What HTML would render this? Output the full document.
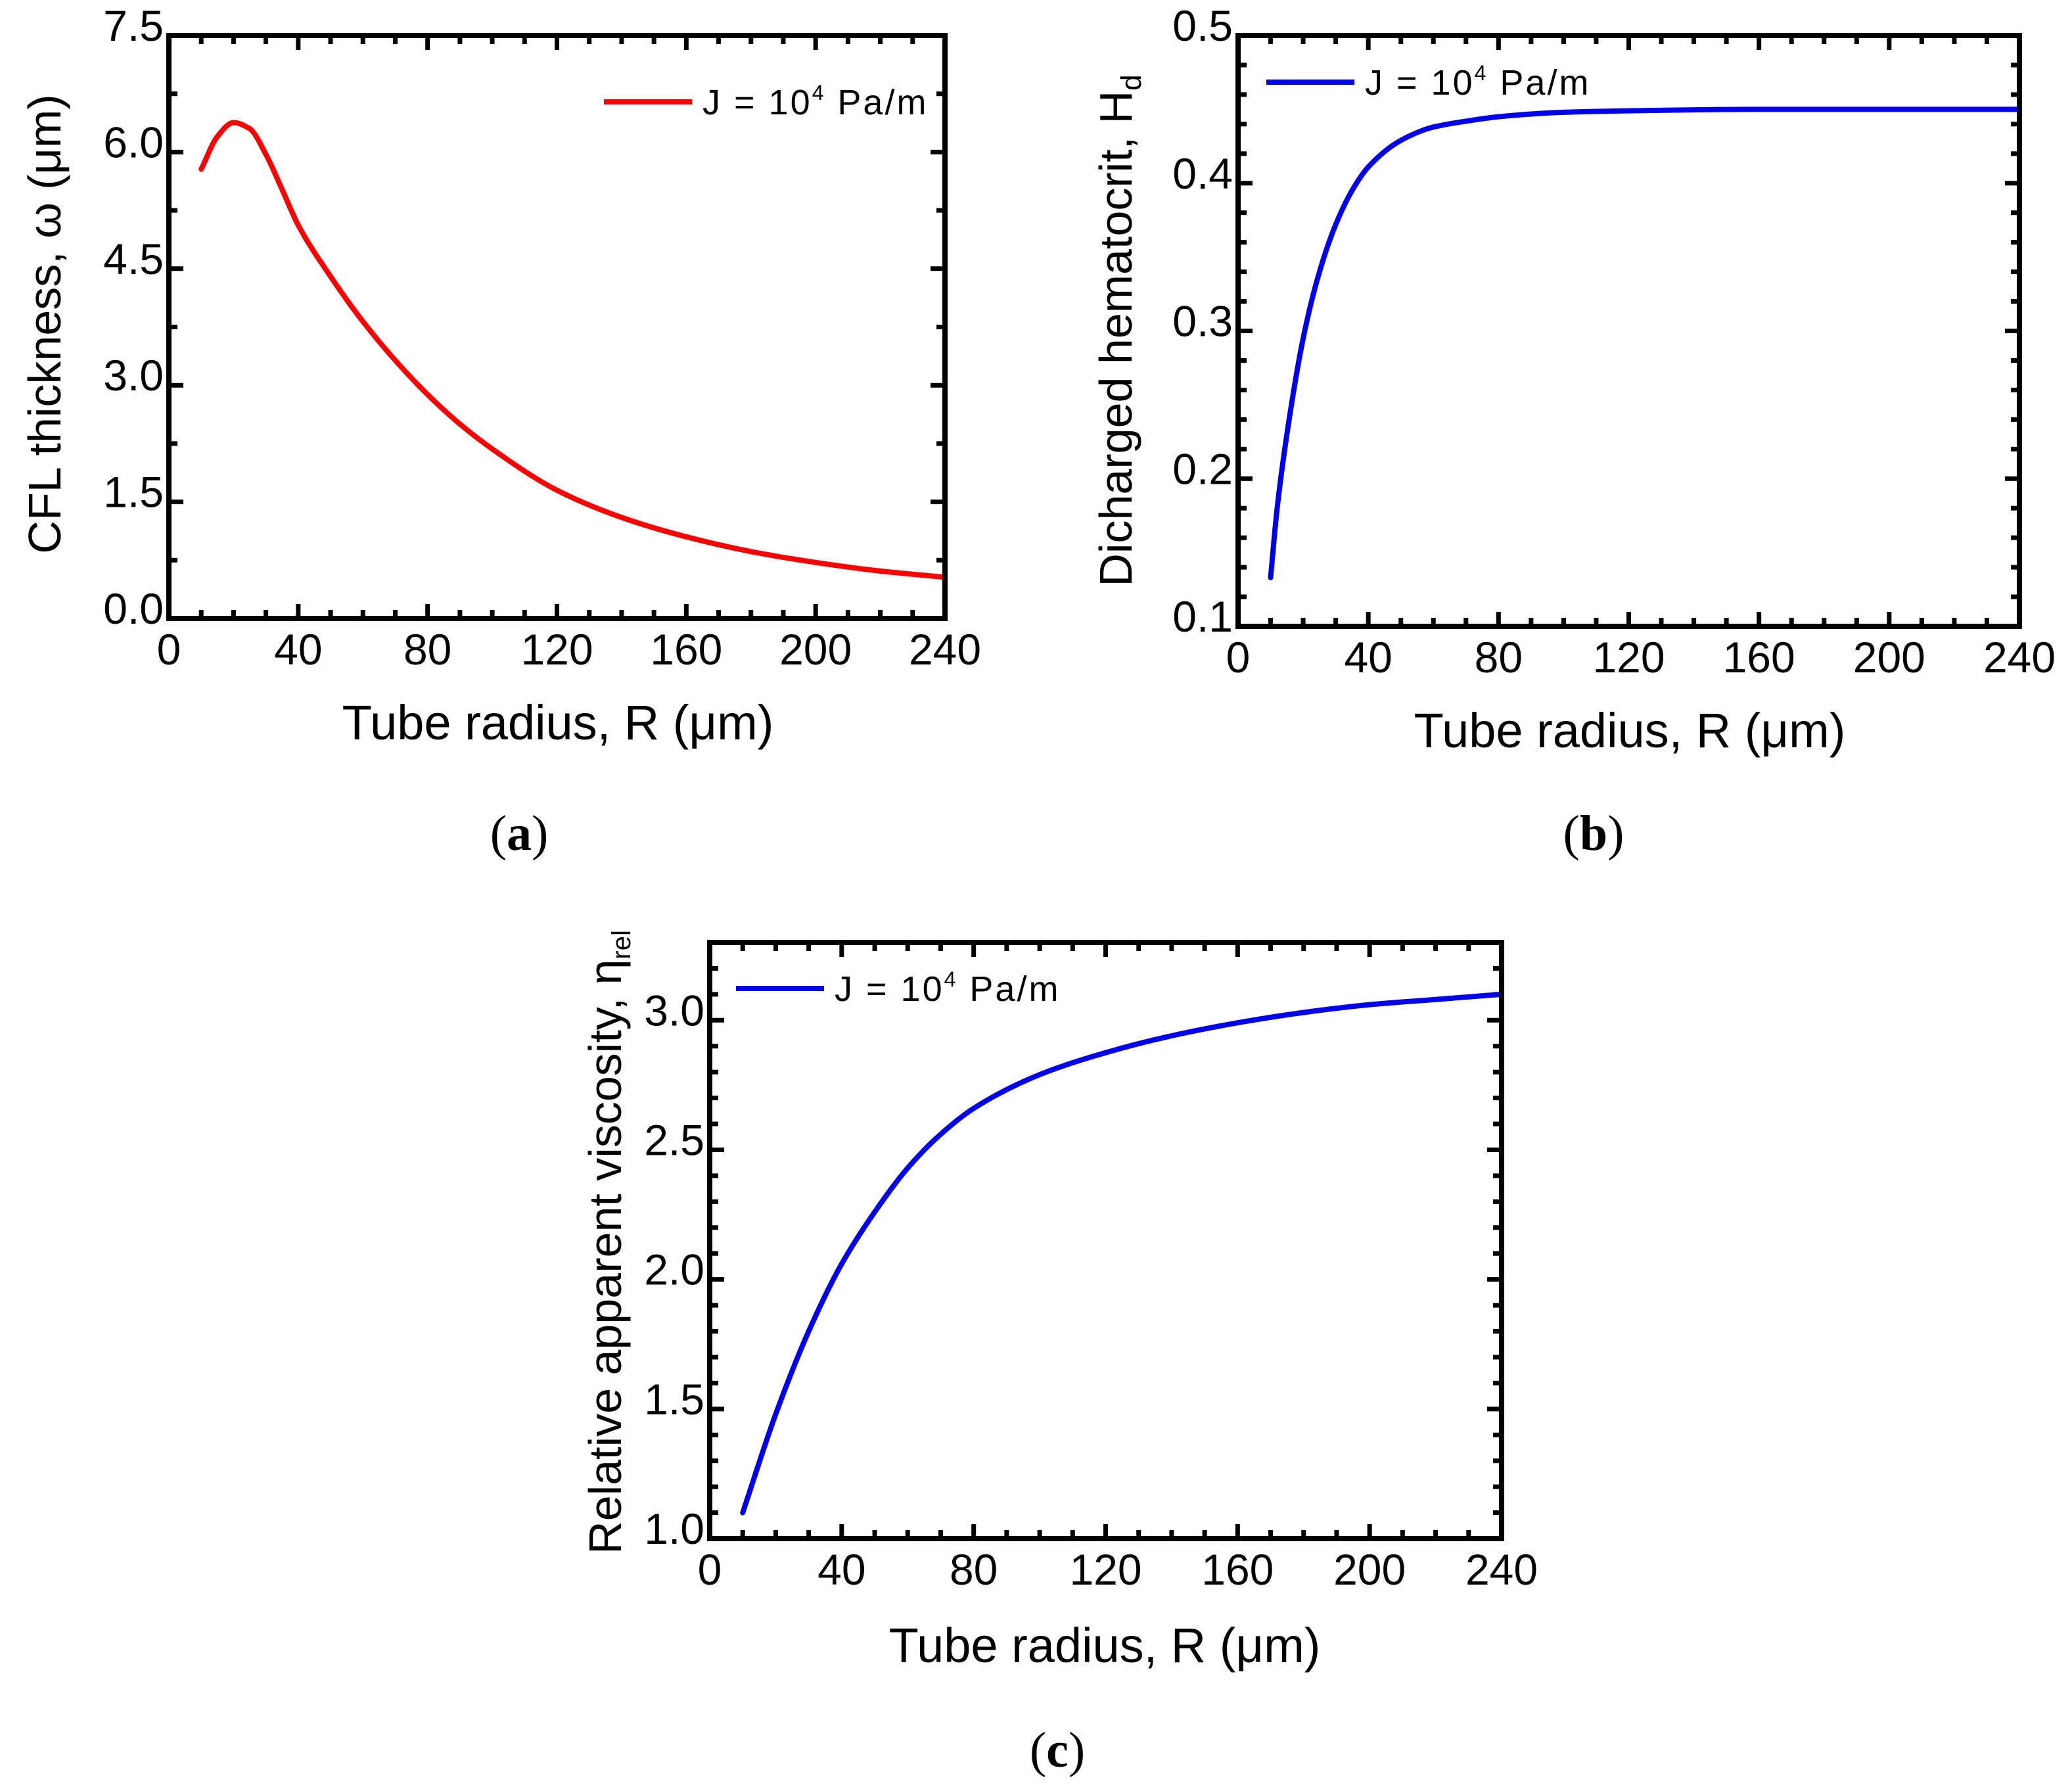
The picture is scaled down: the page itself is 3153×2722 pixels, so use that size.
<!DOCTYPE html>
<html><head><meta charset="utf-8">
<style>
html,body{margin:0;padding:0;background:#fff;}
svg{display:block;font-family:"Liberation Sans",sans-serif;}
</style></head>
<body>
<svg id="fig" width="3153" height="2722" viewBox="0 0 3153 2722" xmlns="http://www.w3.org/2000/svg">
<rect width="3153" height="2722" fill="#fff"/>
<text x="790" y="1293" font-family="Liberation Serif,serif" font-size="76" text-anchor="middle">(<tspan font-weight="bold">a</tspan>)</text>
<text x="2425" y="1293" font-family="Liberation Serif,serif" font-size="76" text-anchor="middle">(<tspan font-weight="bold">b</tspan>)</text>
<text x="1609" y="2688" font-family="Liberation Serif,serif" font-size="76" text-anchor="middle">(<tspan font-weight="bold">c</tspan>)</text>
</svg>
<script>
// Panel (a): CFL thickness
const radiusA = [10,15,20,25,30,35,40,50,60,70,80,90,100,120,140,160,180,200,220,240];
const cflA = [5.78,6.2,6.38,6.3,5.97,5.52,5.06,4.4,3.82,3.32,2.88,2.5,2.18,1.65,1.3,1.05,0.86,0.72,0.61,0.53];
const yTicksA = ["0.0","1.5","3.0","4.5","6.0","7.5"];
// Panel (b): discharged hematocrit
const radiusB = [10,12,15,20,25,30,35,40,50,60,70,80,100,120,160,200,240];
const hdB = [0.133,0.18,0.23,0.295,0.34,0.372,0.395,0.411,0.429,0.438,0.442,0.445,0.448,0.449,0.45,0.45,0.45];
const yTicksB = ["0.1","0.2","0.3","0.4","0.5"];
// Panel (c): relative apparent viscosity
const radiusC = [10,20,30,40,50,60,70,80,100,120,140,160,180,200,220,240];
const etaC = [1.1,1.48,1.8,2.06,2.26,2.43,2.56,2.66,2.79,2.875,2.94,2.99,3.03,3.06,3.08,3.1];
const yTicksC = ["1.0","1.5","2.0","2.5","3.0"];
const xTicks = ["0","40","80","120","160","200","240"];

const NS="http://www.w3.org/2000/svg";
const svg=document.getElementById('fig');
function mk(tag,attrs,parent){const e=document.createElementNS(NS,tag);for(const k in attrs)e.setAttribute(k,attrs[k]);(parent||svg).appendChild(e);return e;}

// monotone cubic (Fritsch-Carlson) in data space, converted to bezier in pixel space
function monoPath(xs,ys,sx,sy){
  const n=xs.length,d=[],m=new Array(n);
  for(let i=0;i<n-1;i++)d.push((ys[i+1]-ys[i])/(xs[i+1]-xs[i]));
  m[0]=d[0];m[n-1]=d[n-2];
  for(let i=1;i<n-1;i++){
    if(d[i-1]*d[i]<=0)m[i]=0;
    else{const h0=xs[i]-xs[i-1],h1=xs[i+1]-xs[i];const w1=2*h1+h0,w2=h1+2*h0;m[i]=(w1+w2)/(w1/d[i-1]+w2/d[i]);}
  }
  let s='M'+sx(xs[0]).toFixed(1)+' '+sy(ys[0]).toFixed(1);
  for(let i=0;i<n-1;i++){
    const h=xs[i+1]-xs[i];
    const c1x=xs[i]+h/3,c1y=ys[i]+m[i]*h/3,c2x=xs[i+1]-h/3,c2y=ys[i+1]-m[i+1]*h/3;
    s+=`C${sx(c1x).toFixed(1)} ${sy(c1y).toFixed(1)} ${sx(c2x).toFixed(1)} ${sy(c2y).toFixed(1)} ${sx(xs[i+1]).toFixed(1)} ${sy(ys[i+1]).toFixed(1)}`;
  }
  return s;
}

function drawPlot(p){
  const g=mk('g',{});
  
  
  const sx=v=>p.L+(v-0)/(240-0)*(p.R-p.L);
  const sy=v=>p.B-(v-p.ymin)/(p.ymax-p.ymin)*(p.B-p.T);
  for(let v=0;v<=240;v+=10){
    const major=v%40===0, len=major?22:13, x=sx(v);
    const t1=mk('line',{x1:x,x2:x,y1:p.B,y2:p.B-len,stroke:'#000','stroke-width':7},g);
    
    
    const t2=mk('line',{x1:x,x2:x,y1:p.T,y2:p.T+len,stroke:'#000','stroke-width':7},g);
    
    
  }
  const nMaj=p.yTicks.length-1;
  const step=(p.ymax0-p.ymin)/(nMaj*p.ysub);
  for(let i=0;;i++){
    const v=p.ymin+i*step;
    if(v>p.ymax+1e-9)break;
    const major=i%p.ysub===0,len=major?22:13,y=sy(v);
    const t1=mk('line',{x1:p.L,x2:p.L+len,y1:y,y2:y,stroke:'#000','stroke-width':7},g);
    
    
    const t2=mk('line',{x1:p.R,x2:p.R-len,y1:y,y2:y,stroke:'#000','stroke-width':7},g);
    
    
  }
  xTicks.forEach(s=>{
    const t=mk('text',{x:sx(+s),y:p.B+70,'font-size':66,'text-anchor':'middle'},g);
    t.textContent=s;
    
    
  });
  p.yTicks.forEach(s=>{
    const t=mk('text',{x:p.L-8,y:sy(+s)+8,'font-size':66,'text-anchor':'end'},g);
    t.textContent=s;
    
    
  });
  const c=mk('path',{d:monoPath(p.xs,p.ys,sx,sy),fill:'none',stroke:p.color,'stroke-width':8,'stroke-linejoin':'round','stroke-linecap':'round'},g);
  
  
  const f=mk('rect',{x:p.L,y:p.T,width:p.R-p.L,height:p.B-p.T,fill:'none',stroke:'#000','stroke-width':8},g);
  
  
  const ll=mk('line',{x1:p.lx,x2:p.lx+134,y1:p.ly,y2:p.ly,stroke:p.color,'stroke-width':8},g);
  
  
  const lt=mk('text',{x:p.lx+150,y:p.ly+19,'font-size':54,'letter-spacing':3},g);
  lt.innerHTML='J = 10<tspan dy="-22" font-size="32">4</tspan><tspan dy="22"> Pa/m</tspan>';
  
  
  const xt=mk('text',{x:p.xtx,y:p.xty,'font-size':74,'text-anchor':'middle'},g);
  xt.textContent='Tube radius, R (\u03bcm)';
  
  
  const yt=mk('text',{x:0,y:0,'font-size':70,'text-anchor':'middle',transform:`translate(${p.ytx},${p.yty}) rotate(-90)`},g);
  yt.innerHTML=p.ytitle;
  
  
}

drawPlot({name:'chart-cfl-thickness',L:257,R:1438,T:54,B:941,ymin:0,ymax:7.5,ymax0:7.5,ysub:2,yTicks:yTicksA,
  xs:radiusA,ys:cflA,color:'#ff0000',lx:919,ly:155,xtx:849,xty:1125,ytx:92,yty:493,
  ytitle:'CFL thickness, \u03c9 (\u03bcm)'});
drawPlot({name:'chart-hematocrit',L:1884,R:3073,T:54,B:953,ymin:0.1,ymax:0.5,ymax0:0.5,ysub:5,yTicks:yTicksB,
  xs:radiusB,ys:hdB,color:'#0000ee',lx:1927,ly:125,xtx:2480,xty:1137,ytx:1722,yty:503,
  ytitle:'Dicharged hematocrit, H<tspan dy="14" font-size="44">d</tspan>'});
drawPlot({name:'chart-viscosity',L:1080,R:2285,T:1434,B:2341,ymin:1.0,ymax:3.3,ymax0:3.0,ysub:5,yTicks:yTicksC,
  xs:radiusC,ys:etaC,color:'#0000ee',lx:1120,ly:1504,xtx:1681,xty:2529,ytx:945,yty:1890,
  ytitle:'Relative apparent viscosity, \u03b7<tspan dy="14" font-size="40">rel</tspan>'});
</script>
</body></html>
